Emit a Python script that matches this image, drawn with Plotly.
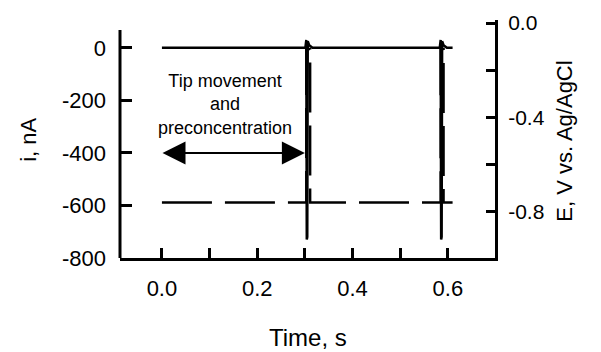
import plotly.graph_objects as go

# Current trace (solid), nA
time_i = [0.0, 0.301, 0.303, 0.304, 0.305, 0.306, 0.309, 0.316,
          0.583, 0.585, 0.586, 0.587, 0.588, 0.591, 0.598, 0.610]
current_nA = [0, 0, 30, -730, -720, 25, 10, 0,
              0, 30, -730, -720, 25, 10, 0, 0]

# Potential trace (dashed), V vs Ag/AgCl
time_E = [0.0, 0.303, 0.303, 0.311, 0.311, 0.585, 0.585, 0.591, 0.591, 0.610]
potential_V = [-0.76, -0.76, -0.11, -0.11, -0.76, -0.76, -0.11, -0.11, -0.76, -0.76]

x_ticks = [0.0, 0.1, 0.2, 0.3, 0.4, 0.5, 0.6]
x_labels = ["0.0", "", "0.2", "", "0.4", "", "0.6"]
y_ticks = [0, -200, -400, -600, -800]
y_labels = ["0", "-200", "-400", "-600", "-800"]
y2_ticks = [0.0, -0.2, -0.4, -0.6, -0.8]
y2_labels = ["0.0", "", "-0.4", "", "-0.8"]

FONT = "Liberation Sans, Arial, sans-serif"
FS = 22

fig = go.Figure()
fig.add_trace(go.Scatter(x=time_i, y=current_nA, mode="lines",
                         line=dict(color="black", width=2.5), yaxis="y",
                         showlegend=False))
fig.add_trace(go.Scatter(x=time_E, y=potential_V, mode="lines",
                         line=dict(color="black", width=2.5, dash="50px,13px"),
                         yaxis="y2", showlegend=False))

fig.update_layout(
    width=601, height=352,
    margin=dict(l=120, r=106, t=20, b=94),
    paper_bgcolor="white", plot_bgcolor="white",
    font=dict(family=FONT, size=FS, color="black"),
    xaxis=dict(range=[-0.088, 0.699], tickmode="array", tickvals=x_ticks,
               ticktext=x_labels, ticks="inside", ticklen=10, tickwidth=3,
               tickcolor="black", showline=True, linewidth=3, linecolor="black",
               showgrid=False, zeroline=False, tickfont=dict(size=FS),
               ticklabelstandoff=9),
    yaxis=dict(range=[-800, 106], tickmode="array", tickvals=y_ticks,
               ticktext=y_labels, ticks="inside", ticklen=12, tickwidth=3,
               tickcolor="black", showline=False, showgrid=False,
               zeroline=False, tickfont=dict(size=FS), ticklabelstandoff=13),
    yaxis2=dict(range=[-0.995, 0.013], overlaying="y", side="right",
                tickmode="array", tickvals=y2_ticks, ticktext=y2_labels,
                ticks="inside", ticklen=9, tickwidth=3, tickcolor="black",
                showline=True, linewidth=3, linecolor="black",
                showgrid=False, zeroline=False, tickfont=dict(size=21),
                ticklabelstandoff=6),
)

# left axis line (shorter than plot height)
fig.add_shape(type="line", xref="paper", yref="y", x0=0, x1=0, y0=-800, y1=68,
              line=dict(color="black", width=3))

# titles
fig.add_annotation(text="i, nA", xref="paper", yref="paper", x=-0.243, y=0.496,
                   textangle=-90, showarrow=False, font=dict(size=FS),
                   xanchor="center", yanchor="middle")
fig.add_annotation(text="Time, s", xref="paper", yref="paper", x=0.501, y=-0.336,
                   showarrow=False, font=dict(size=24),
                   xanchor="center", yanchor="middle")
fig.add_annotation(text="E, V vs. Ag/AgCl", xref="paper", yref="paper", x=1.185,
                   y=0.49, textangle=-90, showarrow=False, font=dict(size=FS),
                   xanchor="center", yanchor="middle")

# annotation text
fig.add_annotation(text="Tip movement<br>and<br>preconcentration", xref="paper",
                   yref="paper", x=0.28, y=0.647, showarrow=False,
                   font=dict(size=18), xanchor="center", yanchor="middle",
                   align="center")
# double arrow
fig.add_annotation(x=0.300, y=-400, ax=-0.002, ay=-400, xref="x", yref="y",
                   axref="x", ayref="y", text="", showarrow=True,
                   arrowhead=2, arrowside="end+start", arrowsize=2.3,
                   arrowwidth=2, arrowcolor="black")

fig.write_html("out.html")
